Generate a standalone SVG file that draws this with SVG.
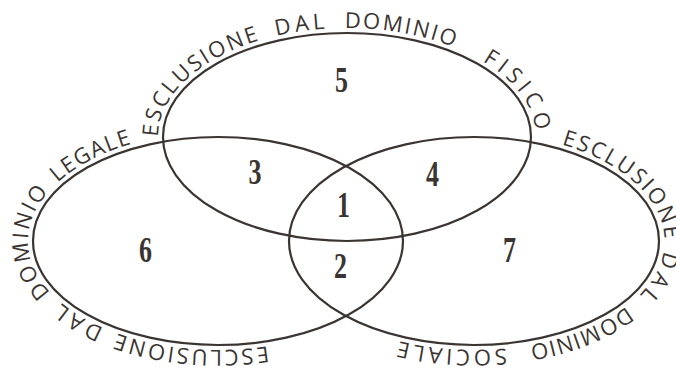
<svg xmlns="http://www.w3.org/2000/svg" xmlns:xlink="http://www.w3.org/1999/xlink" width="676" height="371" viewBox="0 0 676 371">
  <style>
    .set { fill: none; stroke: #3b3532; stroke-width: 2.2; }
    .ring { font-family: "Open Sans", "Liberation Sans", sans-serif; font-size: 22px; fill: #3b3532; }
    .num { font-family: "Liberation Serif", "Times New Roman", serif; font-weight: bold; font-size: 26px; fill: #3b3532; text-anchor: middle; }
  </style>
  <defs>
    <path id="ringTop" d="M 158 137 A 189 109 0 0 1 536 137 A 189 109 0 0 1 158 137"/>
    <path id="ringLeft" d="M 313 335.4 A 190 109 0 0 1 123 146.6 A 190 109 0 0 1 313 335.4"/>
    <path id="ringRight" d="M 379 146.6 A 189 108 0 0 1 569 335.4 A 189 108 0 0 1 379 146.6"/>
  </defs>
  <rect width="676" height="371" fill="#ffffff"/>

  <g id="set-fisico">
    <ellipse class="set" cx="347" cy="137" rx="184" ry="104"/>
    <text class="ring"><textPath xlink:href="#ringTop" href="#ringTop" startOffset="0" textLength="149" lengthAdjust="spacing">ESCLUSIONE</textPath></text>
    <text class="ring"><textPath xlink:href="#ringTop" href="#ringTop" startOffset="167" textLength="49" lengthAdjust="spacing">DAL</textPath></text>
    <text class="ring"><textPath xlink:href="#ringTop" href="#ringTop" startOffset="236" textLength="111" lengthAdjust="spacing">DOMINIO</textPath></text>
    <text class="ring"><textPath xlink:href="#ringTop" href="#ringTop" startOffset="379" textLength="91" lengthAdjust="spacing">FISICO</textPath></text>
  </g>

  <g id="set-legale">
    <ellipse class="set" cx="218" cy="241" rx="185" ry="104"/>
    <text class="ring"><textPath xlink:href="#ringLeft" href="#ringLeft" startOffset="47" textLength="152" lengthAdjust="spacing">ESCLUSIONE</textPath></text>
    <text class="ring"><textPath xlink:href="#ringLeft" href="#ringLeft" startOffset="213.5" textLength="49" lengthAdjust="spacing">DAL</textPath></text>
    <text class="ring"><textPath xlink:href="#ringLeft" href="#ringLeft" startOffset="278" textLength="112" lengthAdjust="spacing">DOMINIO</textPath></text>
    <text class="ring"><textPath xlink:href="#ringLeft" href="#ringLeft" startOffset="403" textLength="84" lengthAdjust="spacing">LEGALE</textPath></text>
  </g>

  <g id="set-sociale">
    <ellipse class="set" cx="474" cy="241" rx="185" ry="104"/>
    <text class="ring"><textPath xlink:href="#ringRight" href="#ringRight" startOffset="185" textLength="149" lengthAdjust="spacing">ESCLUSIONE</textPath></text>
    <text class="ring"><textPath xlink:href="#ringRight" href="#ringRight" startOffset="346" textLength="51" lengthAdjust="spacing">DAL</textPath></text>
    <text class="ring"><textPath xlink:href="#ringRight" href="#ringRight" startOffset="414.5" textLength="105" lengthAdjust="spacing">DOMINIO</textPath></text>
    <text class="ring"><textPath xlink:href="#ringRight" href="#ringRight" startOffset="543" textLength="108" lengthAdjust="spacing">SOCIALE</textPath></text>
  </g>

  <g id="region-1"><text class="num" transform="translate(343.5 217) scale(1 1.35)">1</text></g>
  <g id="region-2"><text class="num" transform="translate(340.5 278) scale(1 1.35)">2</text></g>
  <g id="region-3"><text class="num" transform="translate(255 184) scale(1 1.35)">3</text></g>
  <g id="region-4"><text class="num" transform="translate(432.5 186) scale(1 1.35)">4</text></g>
  <g id="region-5"><text class="num" transform="translate(341.5 92) scale(1 1.35)">5</text></g>
  <g id="region-6"><text class="num" transform="translate(145.5 262) scale(1 1.35)">6</text></g>
  <g id="region-7"><text class="num" transform="translate(509.5 262) scale(1 1.35)">7</text></g>

  <g id="connectors"></g>
</svg>
